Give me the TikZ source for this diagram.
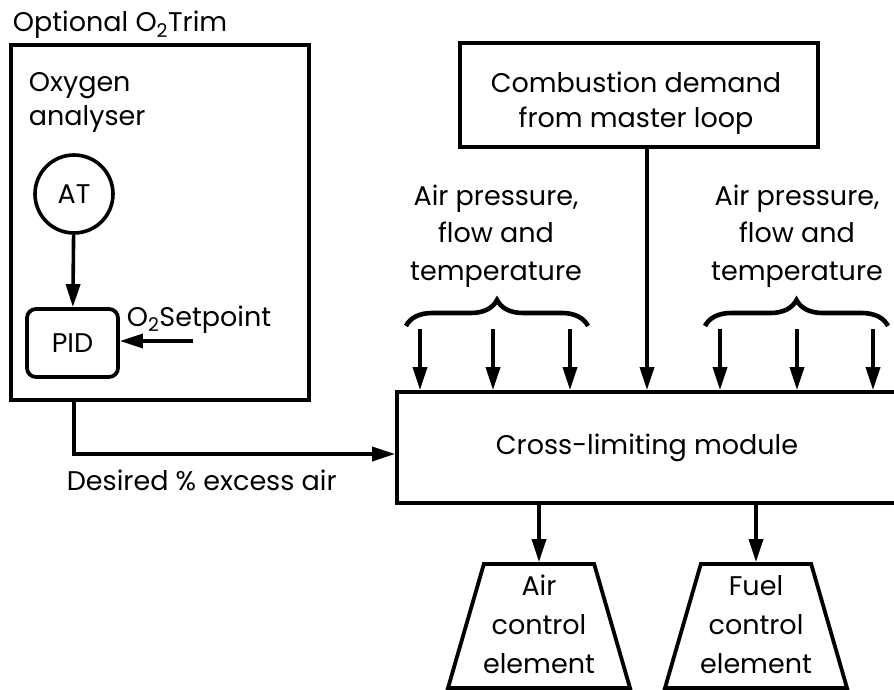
\documentclass[tikz,border=0pt]{standalone}
\usepackage{fontspec}
\setmainfont{Poppins}
\usetikzlibrary{arrows.meta,shapes.geometric,decorations.pathreplacing}
\begin{document}
\begin{tikzpicture}[x=1pt,y=-1pt,
  line width=3.8pt,
  every node/.style={font=\fontsize{27}{36}\selectfont, inner sep=0pt},
  txt/.style={align=center},
  box/.style={draw, rectangle},
  arr/.style={-{Triangle[length=23pt,width=14pt]}, line width=3.6pt},
  brc/.style={decorate, decoration={brace, amplitude=26pt, aspect=0.5}, line width=4.6pt},
  trap/.style={draw, trapezium, trapezium stretches=true, trapezium angle=72,
               inner sep=2pt, minimum width=182pt, minimum height=124pt}]
\useasboundingbox (0,0) rectangle (894,690);

% Optional O2 trim block
\node[anchor=base west] (trimlbl) at (11,32) {Optional O\textsubscript{2}Trim};
\node[box, minimum width=298pt, minimum height=355pt] (trim) at (160,222.5) {};
\node[anchor=base west, align=left, font=\fontsize{27}{33}\selectfont] (oxy) at (27,125) {Oxygen\\analyser};
\node[draw, circle, minimum size=78pt, line width=3.6pt] (at) at (74,194) {AT};
\node[box, rounded corners=9pt, minimum width=91pt, minimum height=68pt] (pid) at (72.5,343) {PID};
\node[anchor=base west] (sp) at (125,326) {O\textsubscript{2}Setpoint};
\coordinate (spin) at (193,341);
\draw[arr] (at) -- (pid);
\draw[arr] (spin) -- (spin -| pid.east);

% Cross-limiting module
\node[box, minimum width=500pt, minimum height=111pt] (cross) at (647,447.5) {Cross-limiting module};

% Desired excess air signal
\coordinate (dy) at (0,454);
\draw[arr] (trim.south -| at.center) |- (cross.west |- dy);
\node[anchor=base west] (desired) at (65,490) {Desired \% excess air};

% Combustion demand
\node[box, minimum width=358pt, minimum height=104pt] (comb) at (639,95) {};
\node[txt, anchor=base, font=\fontsize{27}{35}\selectfont] (combtxt) at (636,128) {Combustion demand\\from master loop};
\coordinate (cx) at (647,0);
\draw[arr] (comb.south -| cx) -- (cross.north -| cx);

% Air measurement inputs
\node[txt, anchor=base, font=\fontsize{27}{37.5}\selectfont] (airl) at (496,280) {Air pressure,\\flow and\\temperature};
\node[txt, anchor=base, font=\fontsize{27}{37.5}\selectfont] (airr) at (797,280) {Air pressure,\\flow and\\temperature};
\coordinate (bl1) at (406,326);
\coordinate (bl2) at (588,326);
\coordinate (br1) at (705,326);
\coordinate (br2) at (888,326);
\draw[brc] (bl1) -- (bl2);
\draw[brc] (br1) -- (br2);
\foreach \n/\x in {a1/420, a2/493, a3/570, a4/720, a5/797, a6/873} {
  \coordinate (\n) at (\x,329);
  \draw[arr] (\n) -- (cross.north -| \n);
}

% Final control elements
\node[trap] (airce) at (539,626) {};
\node[txt, anchor=base, font=\fontsize{27}{39}\selectfont] (airtxt) at (539,673) {Air\\control\\element};
\node[trap] (fuelce) at (756,626) {};
\node[txt, anchor=base, font=\fontsize{27}{39}\selectfont] (fueltxt) at (756,673) {Fuel\\control\\element};
\draw[arr] (cross.south -| airce) -- (airce.north);
\draw[arr] (cross.south -| fuelce) -- (fuelce.north);
\end{tikzpicture}
\end{document}
